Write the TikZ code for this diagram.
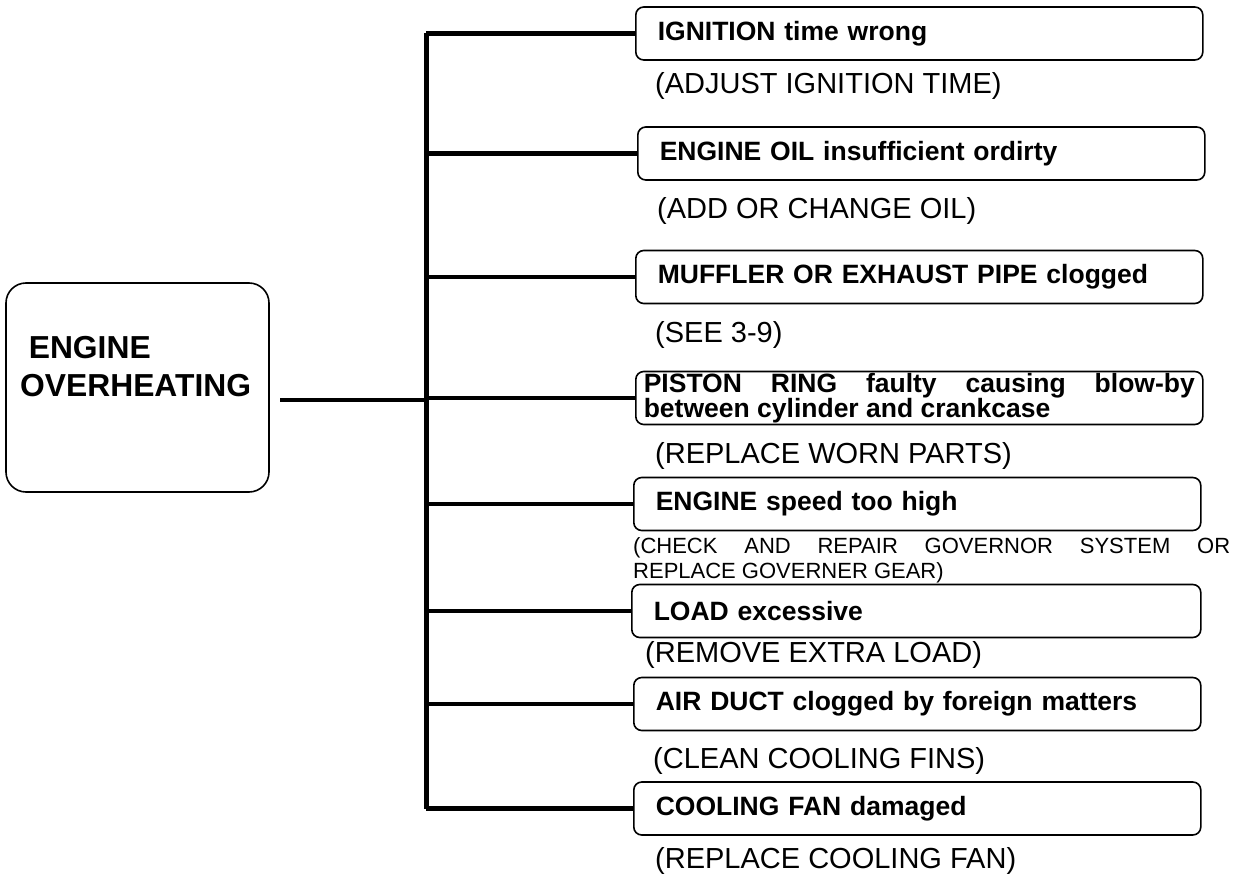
\documentclass[tikz,border=0pt]{standalone}
\usepackage{fontspec}
\setmainfont{Liberation Sans}
\tolerance=10000
\hbadness=10000
\tikzset{
    mainbox/.style={draw, rectangle, rounded corners=20pt, line width=1.6pt, minimum width=263pt, minimum height=209pt, inner sep=0pt},
    maintext/.style={anchor=west, align=left, inner sep=0pt, font=\fontsize{31.8}{38}\selectfont\bfseries},
    cause/.style={draw, rectangle, rounded corners=8pt, line width=1.6pt, anchor=west, inner xsep=22pt, inner ysep=0pt, minimum height=53pt, text width=523pt, align=left, font=\fontsize{26.5}{25}\selectfont\bfseries},
    remedy/.style={anchor=base west, inner sep=0pt, font=\fontsize{29}{33}\selectfont},
    trunk/.style={line width=5pt},
    branch/.style={line width=4.5pt}
}

\begin{document}
\begin{tikzpicture}[x=1pt, y=-1pt]
        \useasboundingbox (0,0) rectangle (1243,877);

        % -----------------------------------------------------------------
        % FAULT
        % -----------------------------------------------------------------
        \node[mainbox] (main) at (137.5,387.5) {};
        \node[maintext] (maintxt) at (20,367) {\hspace*{8.6pt}ENGINE\\OVERHEATING};
        \coordinate (mj) at (280,400);

        % -----------------------------------------------------------------
        % CAUSES
        % -----------------------------------------------------------------
        \node[cause] (c1) at (635,33.5) {IGNITION time wrong};
        \node[cause] (c2) at (637,153.5) {ENGINE OIL insufficient ordirty};
        \node[cause] (c3) at (635,277) {MUFFLER OR EXHAUST PIPE clogged};
        \node[cause, inner xsep=8pt, text width=551pt, align=justify, inner ysep=1pt] (c4) at (635,398) {PISTON RING faulty causing blow-by\linebreak between cylinder and crankcase};
        \node[cause] (c5) at (633,504) {ENGINE speed too high};
        \node[cause, text width=525pt] (c6) at (631,611) {LOAD excessive};
        \node[cause] (c7) at (633,704) {AIR DUCT clogged by foreign matters};
        \node[cause] (c8) at (633,808.5) {COOLING FAN damaged};

        % -----------------------------------------------------------------
        % REMEDIES
        % -----------------------------------------------------------------
        \node[remedy] (r1) at (655,94) {(ADJUST IGNITION TIME)};
        \node[remedy] (r2) at (657,219) {(ADD OR CHANGE OIL)};
        \node[remedy] (r3) at (655,343) {(SEE 3-9)};
        \node[remedy] (r4) at (655,463) {(REPLACE WORN PARTS)};
        \node[remedy, font=\fontsize{22}{25}\selectfont, text width=597pt, align=justify] (r5) at (633,553) {(CHECK AND REPAIR GOVERNOR SYSTEM OR\linebreak REPLACE GOVERNER GEAR)};
        \node[remedy] (r6) at (645,662) {(REMOVE EXTRA LOAD)};
        \node[remedy] (r7) at (653,768) {(CLEAN COOLING FINS)};
        \node[remedy] (r8) at (655,868) {(REPLACE COOLING FAN)};

        % -----------------------------------------------------------------
        % TREE
        % -----------------------------------------------------------------
        \coordinate (ttop) at (426,33.5);
        \draw[trunk] (ttop) -- (ttop |- c8.west);
        \draw[branch] (mj) -- (mj -| ttop);
        \draw[branch] (c1.west -| ttop) -- (c1.west);
        \draw[branch] (c2.west -| ttop) -- (c2.west);
        \draw[branch] (c3.west -| ttop) -- (c3.west);
        \draw[branch] (c4.west -| ttop) -- (c4.west);
        \draw[branch] (c5.west -| ttop) -- (c5.west);
        \draw[branch] (c6.west -| ttop) -- (c6.west);
        \draw[branch] (c7.west -| ttop) -- (c7.west);
        \draw[branch] (c8.west -| ttop) -- (c8.west);

    \end{tikzpicture}
\end{document}
